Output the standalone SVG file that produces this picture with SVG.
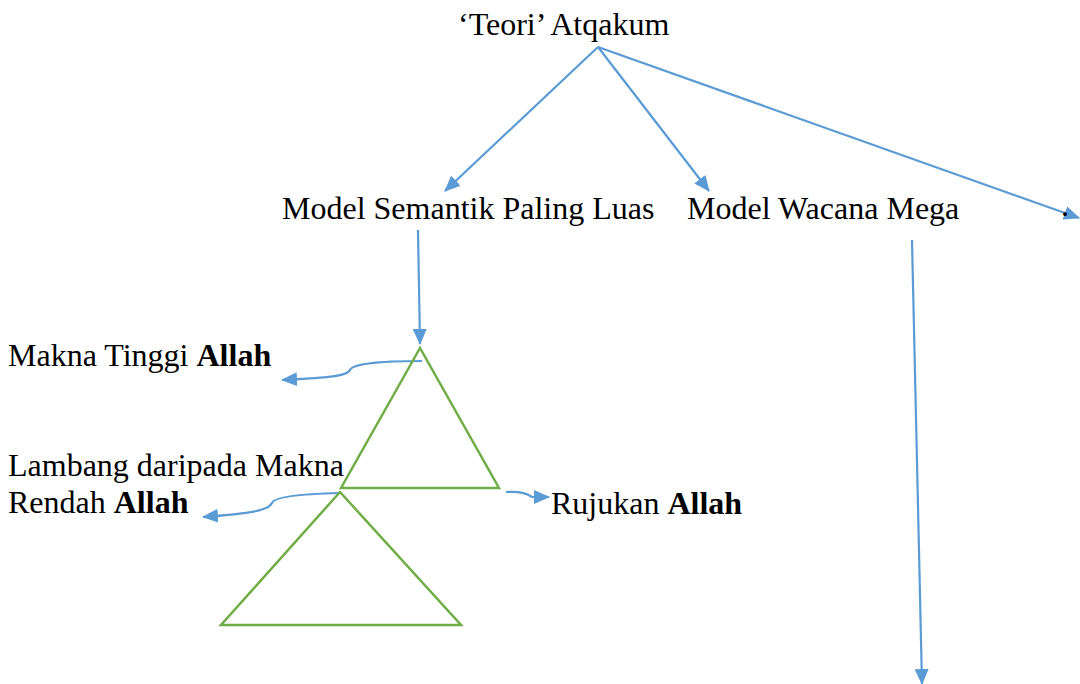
<svg xmlns="http://www.w3.org/2000/svg" width="1080" height="684" viewBox="0 0 1080 684">
<defs>
<marker id="ah" markerWidth="16" markerHeight="14" refX="15" refY="7" orient="auto" markerUnits="userSpaceOnUse" viewBox="0 0 16 14">
<path d="M0,0 L16,7 L0,14 Z" fill="#5B9BD5"/>
</marker>
<style>
.t{font-family:"Liberation Serif","Times New Roman",serif;font-size:32px;fill:#000}
.c{fill:none;stroke:#5B9BD5;stroke-width:2.2}
.tri{fill:none;stroke:#70AD47;stroke-width:2.5}
</style>
</defs>
<rect width="1080" height="684" fill="#fff"/>
<g id="connectors">
<path class="c" d="M598,47 L445,191" marker-end="url(#ah)"/>
<path class="c" d="M598,47 L709,191" marker-end="url(#ah)"/>
<path class="c" d="M598,47 L1079,218" marker-end="url(#ah)"/>
<path class="c" d="M418,230 L420,344" marker-end="url(#ah)"/>
<path class="c" d="M912,240 L922,684" marker-end="url(#ah)"/>
<path class="c" d="M422,361 C380,361 352,364 350,370 C347,377 320,378 282,380" marker-end="url(#ah)"/>
<path class="c" d="M340,493 C300,494 274,497 272,503 C268,512 240,514 203,517" marker-end="url(#ah)"/>
<path class="c" d="M506,492 C520,491 528,494 532,497 L549,497" marker-end="url(#ah)"/>
</g>
<g id="teori"><text class="t" x="458" y="35">‘Teori’ Atqakum</text></g>
<g id="semantik"><text class="t" x="282" y="219">Model Semantik Paling Luas</text></g>
<g id="wacana"><text class="t" x="687" y="219">Model Wacana Mega</text></g>
<g id="dot"><text class="t" x="1061" y="216" font-size="12">.</text></g>
<g id="triangle-upper"><polygon class="tri" points="420,348 341,488 499,488"/></g>
<g id="triangle-lower"><polygon class="tri" points="340,492 221,625 461,625"/></g>
<g id="makna-tinggi"><text class="t" x="8" y="366">Makna Tinggi <tspan font-weight="bold">Allah</tspan></text></g>
<g id="lambang"><text class="t" x="8" y="476">Lambang daripada Makna</text><text class="t" x="8" y="513">Rendah <tspan font-weight="bold">Allah</tspan></text></g>
<g id="rujukan"><text class="t" x="551" y="514">Rujukan <tspan font-weight="bold">Allah</tspan></text></g>
</svg>
